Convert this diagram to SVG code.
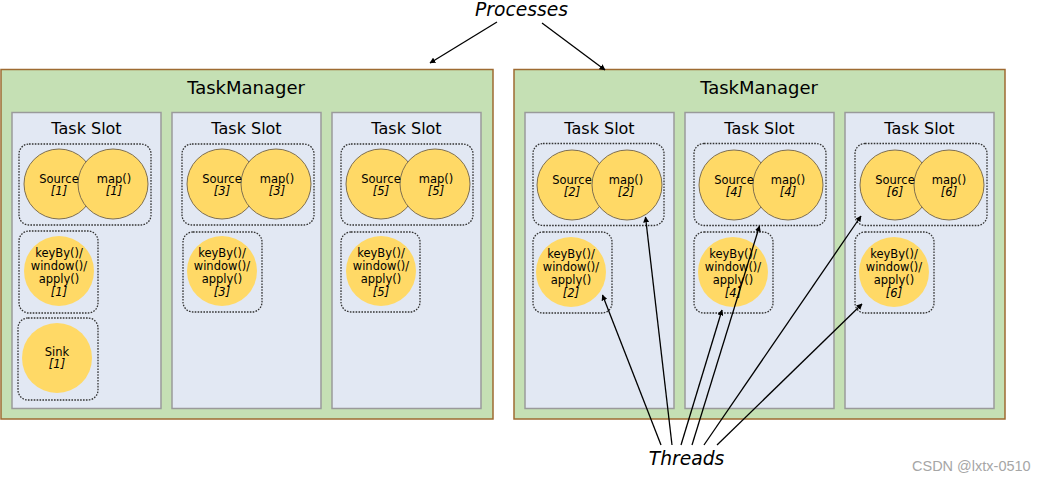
<svg xmlns="http://www.w3.org/2000/svg" width="1046" height="482" viewBox="0 0 1046 482">
<style>
.tm{fill:#C5E0B4;stroke:#9E6B32;stroke-width:1.5}
.slot{fill:#E2E8F3;stroke:#9A9A9A;stroke-width:1.5}
.grp{fill:none;stroke:#333;stroke-width:1.3;stroke-dasharray:1.6 1.3}
.op{fill:#FFD966;stroke:#7F6F4F;stroke-width:1}
.opn{fill:#FFD966}
text{font-family:"DejaVu Sans",Verdana,sans-serif;fill:#000;text-anchor:middle}
.tmt{font-size:18px}
.st{font-size:16px}
.ot{font-size:11.5px}
.it{font-style:italic}
.big{font-size:18.7px;font-style:italic}
.wm{font-family:"Liberation Sans",Arial,sans-serif;font-size:14.5px;fill:#A6A6A6;text-anchor:start}
.cn{stroke:#000;stroke-width:1.3;fill:none;marker-end:url(#ah)}
</style>
<defs>
<marker id="ah" viewBox="0 0 10 10" refX="9" refY="5" markerWidth="6" markerHeight="6" orient="auto" markerUnits="userSpaceOnUse">
<path d="M0,0 L10,5 L0,10 z" fill="#000"/>
</marker>
</defs>

<g id="tm1">
<rect class="tm" x="1" y="69.5" width="492" height="349.5"/>
<text class="tmt" x="246" y="94">TaskManager</text>
<g id="tm1-slot1">
<rect class="slot" x="12" y="112.5" width="149" height="296"/>
<text class="st" x="86.5" y="134">Task Slot</text>
<rect class="grp" x="19" y="144" width="132" height="81" rx="10"/>
<g id="src1"><circle class="op" cx="59" cy="184" r="35"/></g>
<g id="map1"><circle class="op" cx="113" cy="184" r="35"/></g>
<text class="ot" x="59" y="183">Source</text><text class="ot it" x="59" y="195">[1]</text>
<text class="ot" x="114" y="183">map()</text><text class="ot it" x="114" y="195">[1]</text>
<rect class="grp" x="19" y="231" width="79" height="82" rx="10"/>
<g id="kb1"><circle class="opn" cx="59" cy="271" r="35"/>
<text class="ot" x="59" y="257">keyBy()/</text><text class="ot" x="59" y="270">window()/</text><text class="ot" x="59" y="283">apply()</text><text class="ot it" x="59" y="296">[1]</text></g>
<rect class="grp" x="18" y="318" width="80" height="82" rx="10"/>
<g id="sink1"><circle class="opn" cx="57" cy="358" r="35"/>
<text class="ot" x="57" y="356">Sink</text><text class="ot it" x="57" y="368">[1]</text></g>
</g>
<g id="tm1-slot2">
<rect class="slot" x="172" y="112.5" width="149" height="296"/>
<text class="st" x="246.5" y="134">Task Slot</text>
<rect class="grp" x="182" y="144" width="132" height="81" rx="10"/>
<g id="src3"><circle class="op" cx="222" cy="184" r="35"/></g>
<g id="map3"><circle class="op" cx="276" cy="184" r="35"/></g>
<text class="ot" x="222" y="183">Source</text><text class="ot it" x="222" y="195">[3]</text>
<text class="ot" x="277" y="183">map()</text><text class="ot it" x="277" y="195">[3]</text>
<rect class="grp" x="183" y="232" width="79" height="80" rx="10"/>
<g id="kb3"><circle class="opn" cx="222" cy="271" r="35"/>
<text class="ot" x="222" y="257">keyBy()/</text><text class="ot" x="222" y="270">window()/</text><text class="ot" x="222" y="283">apply()</text><text class="ot it" x="222" y="296">[3]</text></g>
</g>
<g id="tm1-slot3">
<rect class="slot" x="332" y="112.5" width="149" height="296"/>
<text class="st" x="406.5" y="134">Task Slot</text>
<rect class="grp" x="341" y="144" width="132" height="81" rx="10"/>
<g id="src5"><circle class="op" cx="381" cy="184" r="35"/></g>
<g id="map5"><circle class="op" cx="435" cy="184" r="35"/></g>
<text class="ot" x="381" y="183">Source</text><text class="ot it" x="381" y="195">[5]</text>
<text class="ot" x="436" y="183">map()</text><text class="ot it" x="436" y="195">[5]</text>
<rect class="grp" x="341" y="232" width="79" height="80" rx="10"/>
<g id="kb5"><circle class="opn" cx="381" cy="271" r="35"/>
<text class="ot" x="381" y="257">keyBy()/</text><text class="ot" x="381" y="270">window()/</text><text class="ot" x="381" y="283">apply()</text><text class="ot it" x="381" y="296">[5]</text></g>
</g>
</g>

<g id="tm2">
<rect class="tm" x="514" y="69.5" width="491" height="349.5"/>
<text class="tmt" x="759" y="94">TaskManager</text>
<g id="tm2-slot1">
<rect class="slot" x="525" y="112.5" width="149" height="296"/>
<text class="st" x="599.5" y="134">Task Slot</text>
<rect class="grp" x="533" y="143.5" width="131" height="82" rx="10"/>
<g id="src2"><circle class="op" cx="572" cy="185" r="35"/></g>
<g id="map2"><circle class="op" cx="627" cy="185" r="35"/></g>
<text class="ot" x="572" y="184">Source</text><text class="ot it" x="572" y="196">[2]</text>
<text class="ot" x="626" y="184">map()</text><text class="ot it" x="626" y="196">[2]</text>
<rect class="grp" x="533" y="232" width="79" height="81" rx="10"/>
<g id="kb2"><circle class="opn" cx="571" cy="272" r="35"/>
<text class="ot" x="571" y="258">keyBy()/</text><text class="ot" x="571" y="271">window()/</text><text class="ot" x="571" y="284">apply()</text><text class="ot it" x="571" y="297">[2]</text></g>
</g>
<g id="tm2-slot2">
<rect class="slot" x="685" y="112.5" width="149" height="296"/>
<text class="st" x="759.5" y="134">Task Slot</text>
<rect class="grp" x="694" y="143.5" width="132" height="82" rx="10"/>
<g id="src4"><circle class="op" cx="734" cy="185" r="35"/></g>
<g id="map4"><circle class="op" cx="788" cy="185" r="35"/></g>
<text class="ot" x="734" y="184">Source</text><text class="ot it" x="734" y="196">[4]</text>
<text class="ot" x="788" y="184">map()</text><text class="ot it" x="788" y="196">[4]</text>
<rect class="grp" x="694" y="232" width="79" height="81" rx="10"/>
<g id="kb4"><circle class="opn" cx="733" cy="272" r="35"/>
<text class="ot" x="733" y="258">keyBy()/</text><text class="ot" x="733" y="271">window()/</text><text class="ot" x="733" y="284">apply()</text><text class="ot it" x="733" y="297">[4]</text></g>
</g>
<g id="tm2-slot3">
<rect class="slot" x="845" y="112.5" width="149" height="296"/>
<text class="st" x="919.5" y="134">Task Slot</text>
<rect class="grp" x="855" y="143.5" width="132" height="82" rx="10"/>
<g id="src6"><circle class="op" cx="895" cy="185" r="35"/></g>
<g id="map6"><circle class="op" cx="949" cy="185" r="35"/></g>
<text class="ot" x="895" y="184">Source</text><text class="ot it" x="895" y="196">[6]</text>
<text class="ot" x="949" y="184">map()</text><text class="ot it" x="949" y="196">[6]</text>
<rect class="grp" x="855" y="232" width="79" height="81" rx="10"/>
<g id="kb6"><circle class="opn" cx="894" cy="272" r="35"/>
<text class="ot" x="894" y="258">keyBy()/</text><text class="ot" x="894" y="271">window()/</text><text class="ot" x="894" y="284">apply()</text><text class="ot it" x="894" y="297">[6]</text></g>
</g>
</g>

<g id="labels">
<text class="big" x="521.5" y="15.5">Processes</text>
<text class="big" x="686.5" y="465">Threads</text>
</g>

<g id="connectors">
<line class="cn" x1="497" y1="22" x2="430" y2="63"/>
<line class="cn" x1="542" y1="23" x2="605" y2="70"/>
<line class="cn" x1="661" y1="445" x2="602.5" y2="295"/>
<line class="cn" x1="672" y1="445" x2="645.5" y2="217"/>
<line class="cn" x1="681" y1="445" x2="722" y2="310"/>
<line class="cn" x1="692" y1="445" x2="759.5" y2="226"/>
<line class="cn" x1="704" y1="445" x2="861" y2="216"/>
<line class="cn" x1="717" y1="445" x2="862" y2="304"/>
</g>

<text class="wm" x="912" y="471">CSDN @lxtx-0510</text>
</svg>
